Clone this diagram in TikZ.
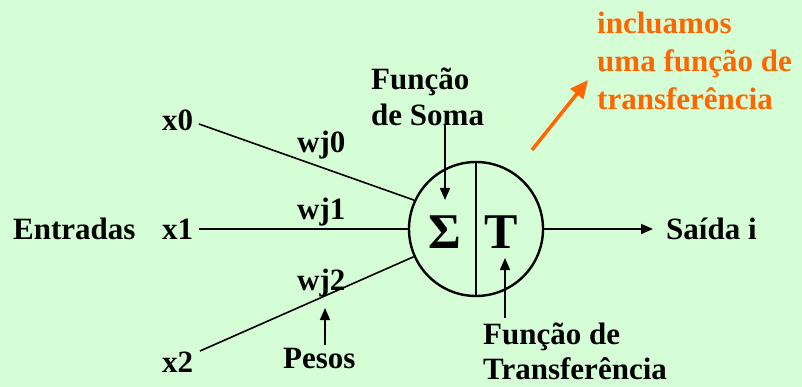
\documentclass[tikz,border=0pt]{standalone}
\usepackage{fontspec}
\setmainfont{Liberation Serif}
\usetikzlibrary{arrows.meta}
\definecolor{bgcol}{RGB}{214,254,214}
\definecolor{orng}{RGB}{255,102,0}
\begin{document}
\begin{tikzpicture}[x=1pt,y=-1pt,
  lbl/.style={font=\fontsize{31}{36}\selectfont\bfseries, inner sep=0pt, anchor=base west},
  big/.style={font=\fontsize{50}{56}\selectfont\bfseries, inner sep=0pt, anchor=base},
  wire/.style={line width=1.6pt},
  tip/.style={wire, -{Triangle[length=12pt,width=10pt]}}]
\useasboundingbox (0,0) rectangle (802,387);
\fill[bgcol] (0,0) rectangle (802,387);
% neuron
\node[circle, draw, line width=2.4pt, minimum size=134pt, inner sep=0pt] (c) at (476,229) {};
\draw[line width=2.2pt] (c.north) -- (c.south);
\node[big] (sig) at (445,248) {Σ};
\node[big] (T) at (501,248) {T};
% labels
\node[lbl] (ent) at (13,239) {Entradas};
\node[lbl] (x0) at (162,131) {x0};
\node[lbl] (x1) at (162,239) {x1};
\node[lbl] (x2) at (162,372) {x2};
\node[lbl] (w0) at (297,153) {wj0};
\node[lbl] (w1) at (297,220) {wj1};
\node[lbl] (w2) at (297,290) {wj2};
\node[lbl] (pes) at (283,368) {Pesos};
\node[lbl] (sai) at (666,239) {Saída i};
\node[lbl, align=left, anchor=north west, font=\fontsize{31}{36}\selectfont\bfseries] (soma) at (371,68) {Função\\de Soma};
\node[lbl, align=left, anchor=north west, font=\fontsize{31}{35}\selectfont\bfseries] (transf) at (483,323) {Função de\\Transferência};
\node[lbl, align=left, anchor=north west, text=orng, font=\fontsize{31}{38}\selectfont\bfseries] (inc) at (597,12) {incluamos\\uma função de\\transferência};
% coordinates
\coordinate (a0) at (199,124);
\coordinate (a1) at (199,229);
\coordinate (a2) at (200,351);
\coordinate (o1) at (653,229);
\coordinate (ps) at (325,345);
\coordinate (pt) at (325,308);
\coordinate (ss) at (445,125);
\coordinate (st) at (445,200);
\coordinate (ts) at (505,318);
\coordinate (tt) at (505,258);
\coordinate (os) at (532,150);
\coordinate (ot) at (588,80);
% connectors
\draw[wire] (a0) -- (c.155.5);
\draw[wire] (a1) -- (c.west);
\draw[wire] (a2) -- (c.204);
\draw[tip] (c.east) -- (o1);
\draw[tip] (ps) -- (pt);
\draw[tip] (ss) -- (st);
\draw[tip] (ts) -- (tt);
\draw[line width=3.5pt, orng, -{Triangle[length=18pt,width=16pt]}] (os) -- (ot);
\end{tikzpicture}
\end{document}
